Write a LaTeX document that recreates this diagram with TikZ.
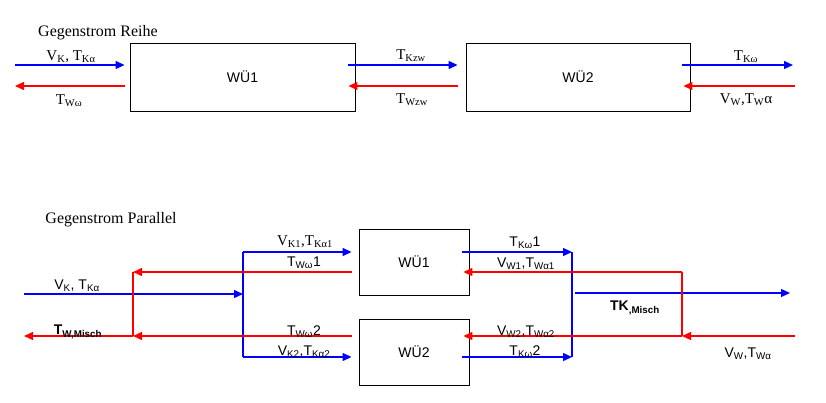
\documentclass[tikz,border=0pt]{standalone}
\usepackage{fontspec}
\setmainfont{Liberation Serif}
\setsansfont{Liberation Sans}
\usepackage{tikz}
\usetikzlibrary{arrows.meta, positioning}

\begin{document}
\begin{tikzpicture}[x=1pt, y=-1pt,
            box/.style={rectangle, draw=black, line width=0.9pt, minimum width=110pt, minimum height=66pt, font=\sffamily\fontsize{14}{16}\selectfont},
            kalt/.style={draw=blue, line width=1.3pt},
            warm/.style={draw=red, line width=1.3pt},
            pfeil/.style={-{Triangle[length=9pt, width=8pt]}},
            titel/.style={inner sep=0pt, font=\fontsize{16}{18}\selectfont},
            lbl/.style={inner sep=0pt, font=\fontsize{15}{17}\selectfont},
            slbl/.style={inner sep=0pt, font=\sffamily\fontsize{14}{16}\selectfont}
        ]
            \useasboundingbox (0,0) rectangle (826,402);

            % Gegenstrom Reihe
            \node[titel] (t1) at (98,33) {Gegenstrom Reihe};
            \node[box, minimum width=225pt, minimum height=68pt] (w1) at (242.5,77) {WÜ1};
            \node[box, minimum width=224pt, minimum height=68pt] (w2) at (578,77) {WÜ2};

            \coordinate (kin) at (15,65);
            \coordinate (wout) at (15,86);
            \coordinate (kout) at (793,65);
            \coordinate (win) at (795,86);

            \draw[kalt, pfeil] (kin) -- ([xshift=-5pt, yshift=12pt]w1.west);
            \draw[warm, pfeil] ([xshift=-5pt, yshift=-9pt]w1.west) -- (wout);
            \draw[kalt, pfeil] ([xshift=-7pt, yshift=12pt]w1.east) -- ([xshift=-8pt, yshift=12pt]w2.west);
            \draw[warm, pfeil] ([xshift=-8pt, yshift=-9pt]w2.west) -- ([xshift=-7pt, yshift=-9pt]w1.east);
            \draw[kalt, pfeil] ([xshift=-8pt, yshift=12pt]w2.east) -- (kout);
            \draw[warm, pfeil] (win) -- ([xshift=-7pt, yshift=-9pt]w2.east);

            \node[lbl] (l1) at (71,57) {V\textsubscript{K}, T\textsubscript{Kα}};
            \node[lbl] (l2) at (69,101) {T\textsubscript{Wω}};
            \node[lbl] (l3) at (411,56) {T\textsubscript{Kzw}};
            \node[lbl] (l4) at (412,100) {T\textsubscript{Wzw}};
            \node[lbl] (l5) at (746,57) {T\textsubscript{Kω}};
            \node[lbl] (l6) at (746,100) {V\textsubscript{W},T\textsubscript{W}α};

            % Gegenstrom Parallel
            \node[titel] (t2) at (111,220) {Gegenstrom Parallel};
            \node[box] (p1) at (414,262) {WÜ1};
            \node[box] (p2) at (414,352) {WÜ2};

            \coordinate (kin2) at (24,294);
            \coordinate (kl1) at (243,252);
            \coordinate (kl2) at (243,357);
            \coordinate (wl1) at (133,272);
            \coordinate (wl2) at (133,336);
            \coordinate (wout2) at (24,336);
            \coordinate (kr1) at (572,252);
            \coordinate (kr2) at (572,357);
            \coordinate (kmix) at (575,293);
            \coordinate (kout2) at (790,293);
            \coordinate (wr1) at (682,272);
            \coordinate (wr2) at (682,336);
            \coordinate (win2) at (795,336);

            \draw[kalt, pfeil] (kin2) -- (kin2 -| kl1);
            \draw[kalt] (kl1) -- (kl2);
            \draw[kalt, pfeil] (kl1) -- ([xshift=-7pt, yshift=10pt]p1.west);
            \draw[kalt, pfeil] (kl2) -- ([xshift=-7pt, yshift=-5pt]p2.west);
            \draw[warm, pfeil] ([xshift=-7pt, yshift=-10pt]p1.west) -- (wl1);
            \draw[warm, pfeil] ([xshift=-7pt, yshift=16pt]p2.west) -- (wl2);
            \draw[warm] (wl1) -- (wl2);
            \draw[warm, pfeil] (wl2) -- (wout2);

            \draw[kalt, pfeil] ([xshift=-7pt, yshift=10pt]p1.east) -- (kr1);
            \draw[kalt, pfeil] ([xshift=-7pt, yshift=-5pt]p2.east) -- (kr2);
            \draw[kalt] (kr1) -- (kr2);
            \draw[kalt, pfeil] (kmix) -- (kout2);
            \draw[warm, pfeil] (wr1) -- ([xshift=-6pt, yshift=-10pt]p1.east);
            \draw[warm, pfeil] (wr2) -- ([xshift=-6pt, yshift=16pt]p2.east);
            \draw[warm] (wr1) -- (wr2);
            \draw[warm, pfeil] (win2) -- (wr2);

            \node[slbl] (m1) at (77,286) {V\textsubscript{K}, T\textsubscript{Kα}};
            \node[slbl] (m2) at (78,332) {\bfseries T\textsubscript{W,Misch}};
            \node[lbl] (m3) at (305,242) {V\textsubscript{K1},T\textsubscript{Kα1}};
            \node[slbl] (m4) at (304,263) {T\textsubscript{Wω}1};
            \node[slbl] (m5) at (304,332) {T\textsubscript{Wω}2};
            \node[slbl] (m6) at (304,352) {V\textsubscript{K2},T\textsubscript{Kα2}};
            \node[slbl] (m7) at (525,243) {T\textsubscript{Kω}1};
            \node[slbl] (m8) at (526,264) {V\textsubscript{W1},T\textsubscript{Wα1}};
            \node[slbl] (m9) at (526,332) {V\textsubscript{W2},T\textsubscript{Wα2}};
            \node[slbl] (m10) at (525,352) {T\textsubscript{Kω}2};
            \node[slbl] (m11) at (635,308) {\bfseries TK\textsubscript{,Misch}};
            \node[slbl] (m12) at (748,354) {V\textsubscript{W},T\textsubscript{Wα}};
        \end{tikzpicture}
\end{document}
